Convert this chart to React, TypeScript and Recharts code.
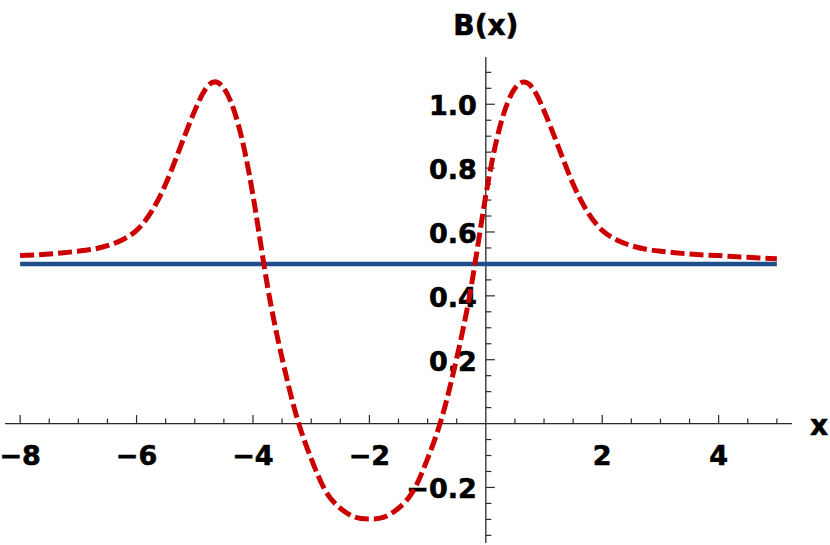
import React from "react";
import { LineChart, Line, XAxis, YAxis, ReferenceLine } from "recharts";

// ---- data ----
const X_VALUES = [
  -8, -7.75, -7.5, -7.25, -7, -6.75, -6.5, -6.25, -6, -5.75, -5.5, -5.25, -5,
  -4.75, -4.5, -4.25, -4, -3.75, -3.5, -3.25, -3, -2.75, -2.5, -2.25, -2,
  -1.75, -1.5, -1.25, -1, -0.75, -0.5, -0.25, 0, 0.25, 0.5, 0.75, 1, 1.25,
  1.5, 1.75, 2, 2.25, 2.5, 2.75, 3, 3.25, 3.5, 3.75, 4, 4.25, 4.5, 4.75, 5,
];
const B_VALUES = [
  0.526, 0.528, 0.531, 0.535, 0.54, 0.546, 0.557, 0.575, 0.605, 0.662, 0.75,
  0.865, 0.98, 1.062, 1.05, 0.935, 0.715, 0.43, 0.205, 0.022, -0.11, -0.212,
  -0.265, -0.293, -0.299, -0.293, -0.265, -0.212, -0.11, 0.022, 0.205, 0.43,
  0.715, 0.935, 1.05, 1.062, 0.98, 0.865, 0.75, 0.662, 0.605, 0.575, 0.557,
  0.546, 0.54, 0.535, 0.531, 0.528, 0.526, 0.523, 0.521, 0.518, 0.516,
];
const LEVEL_X = [-8, 5];
const LEVEL_Y = [0.5, 0.5];

const X_TICKS = [
  -8, -7.5, -7, -6.5, -6, -5.5, -5, -4.5, -4, -3.5, -3, -2.5, -2, -1.5, -1,
  -0.5, 0.5, 1, 1.5, 2, 2.5, 3, 3.5, 4, 4.5, 5,
];
const X_LABELS = [-8, -6, -4, -2, 2, 4];
const Y_TICKS = [
  -0.35, -0.3, -0.25, -0.2, -0.15, -0.1, -0.05, 0.05, 0.1, 0.15, 0.2, 0.25,
  0.3, 0.35, 0.4, 0.45, 0.5, 0.55, 0.6, 0.65, 0.7, 0.75, 0.8, 0.85, 0.9, 0.95,
  1, 1.05, 1.1, 1.15,
];
const Y_LABELS = [-0.2, 0.2, 0.4, 0.6, 0.8, 1.0];

const X_NAME = "x";
const Y_NAME = "B(x)";

// ---- layout ----
const W = 830;
const H = 545;
const MARGIN = { top: 57, right: 38, bottom: 2, left: 5 };
const X_DOMAIN: [number, number] = [-8.26, 5.26];
const Y_DOMAIN: [number, number] = [-0.374, 1.148];
const PLOT_W = W - MARGIN.left - MARGIN.right;
const PLOT_H = H - MARGIN.top - MARGIN.bottom;
const X_ZERO = MARGIN.left + ((0 - X_DOMAIN[0]) / (X_DOMAIN[1] - X_DOMAIN[0])) * PLOT_W;
const Y_ZERO = MARGIN.top + ((Y_DOMAIN[1] - 0) / (Y_DOMAIN[1] - Y_DOMAIN[0])) * PLOT_H;

const FONT = "'DejaVu Sans', 'Liberation Sans', Arial, sans-serif";
const FS = 27;
const AXIS_COLOR = "#2a2a2a";
const RED = "#cc0000";
const BLUE = "#1f4e89";
const TEXT_STYLE = {
  fontFamily: FONT,
  fontWeight: "bold" as const,
  fontSize: FS,
  fill: "#000",
  stroke: "#000",
  strokeWidth: 0.6,
};

const curveData = X_VALUES.map((x, i) => ({ x, b: B_VALUES[i] }));
const levelData = LEVEL_X.map((x, i) => ({ x, b: LEVEL_Y[i] }));

const near = (a: number, list: number[]) => list.some((v) => Math.abs(v - a) < 1e-6);
const fmt = (v: number, digits: number) =>
  (v < 0 ? "\u2212" : "") + Math.abs(v).toFixed(digits);

// tick mark (+ label) on the x axis, positioned through the x scale of a ReferenceLine
const xTickShape = (v: number) => (p: any) => {
  const x = p.x1;
  const major = near(v, X_LABELS);
  return (
    <g>
      <line x1={x} x2={x} y1={Y_ZERO} y2={Y_ZERO - (major ? 8.5 : 5)} stroke={AXIS_COLOR} strokeWidth={1.2} />
      {major && (
        <text x={x} y={Y_ZERO + 41} textAnchor="middle" {...TEXT_STYLE}>
          {fmt(v, 0)}
        </text>
      )}
    </g>
  );
};

const yTickShape = (v: number) => (p: any) => {
  const y = p.y1;
  const major = near(v, Y_LABELS);
  return (
    <g>
      <line x1={X_ZERO} x2={X_ZERO + (major ? 9 : 5.5)} y1={y} y2={y} stroke={AXIS_COLOR} strokeWidth={1.2} />
      {major && (
        <text x={X_ZERO - 9} y={y + 11} textAnchor="end" {...TEXT_STYLE}>
          {fmt(v, 1)}
        </text>
      )}
    </g>
  );
};

const XName = (props: any) => {
  const vb = props.viewBox || {};
  const xEnd = (vb.x ?? 0) + (vb.width ?? 0);
  return (
    <text x={xEnd + 18} y={(vb.y ?? Y_ZERO) + 11} {...TEXT_STYLE} fontSize={28}>
      {X_NAME}
    </text>
  );
};

const YName = (props: any) => {
  const vb = props.viewBox || {};
  return (
    <text x={vb.x ?? X_ZERO} y={(vb.y ?? MARGIN.top) - 22} textAnchor="middle" {...TEXT_STYLE} fontSize={28}>
      {Y_NAME}
    </text>
  );
};

export default function App() {
  return (
    <div style={{ position: "absolute", left: 0, top: 0, width: W, height: H, background: "#fff" }}>
      <LineChart width={W} height={H} margin={MARGIN}>
        <XAxis type="number" dataKey="x" domain={X_DOMAIN} allowDataOverflow hide />
        <YAxis type="number" dataKey="b" domain={Y_DOMAIN} allowDataOverflow hide />
        <ReferenceLine y={0} stroke={AXIS_COLOR} strokeWidth={1.3} label={<XName />} />
        <ReferenceLine x={0} stroke={AXIS_COLOR} strokeWidth={1.3} label={<YName />} />
        {X_TICKS.map((v) => (
          <ReferenceLine key={"xt" + v} x={v} shape={xTickShape(v)} />
        ))}
        {Y_TICKS.map((v) => (
          <ReferenceLine key={"yt" + v} y={v} shape={yTickShape(v)} />
        ))}
        <Line
          data={levelData}
          dataKey="b"
          type="linear"
          stroke={BLUE}
          strokeWidth={4.5}
          dot={false}
          isAnimationActive={false}
        />
        <Line
          data={curveData}
          dataKey="b"
          type="natural"
          stroke={RED}
          strokeWidth={5}
          strokeDasharray="14 5"
          dot={false}
          isAnimationActive={false}
        />
      </LineChart>
    </div>
  );
}
